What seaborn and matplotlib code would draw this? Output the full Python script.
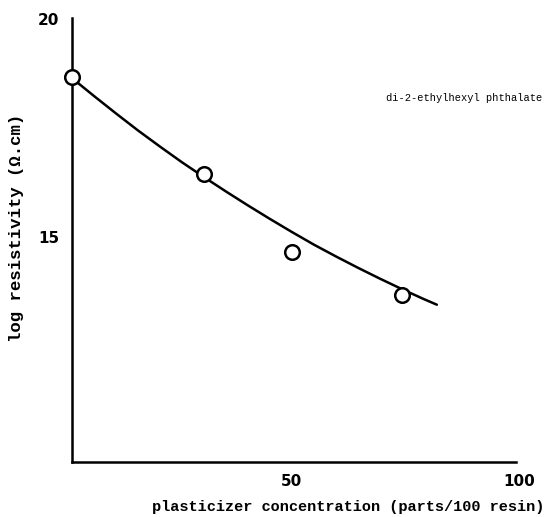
import matplotlib
matplotlib.use("Agg")
import matplotlib.pyplot as plt
import matplotlib.transforms as mtransforms
import seaborn as sns
import pandas as pd

# Measured data points (circles)
conc_points = [0, 30, 50, 75]
logres_points = [18.67, 16.44, 14.66, 13.67]

# Hand-drawn trend curve
curve_x = [0, 5, 10, 15, 20, 25, 30, 35, 40, 45, 50, 55, 60, 65, 70, 75, 80, 83]
curve_y = [18.65, 18.24, 17.84, 17.45, 17.08, 16.72, 16.38, 16.05, 15.73, 15.42,
           15.12, 14.83, 14.56, 14.30, 14.05, 13.81, 13.58, 13.45]

x_ticks = [50, 100]
x_tick_labels = ["50", "100"]
y_ticks = [15, 20]
y_tick_labels = ["15", "20"]

x_label = "plasticizer concentration (parts/100 resin)"
y_label = "log resistivity (Ω.cm)"
annotation = "di-2-ethylhexyl phthalate"

sns.set_style("white")
plt.rcParams['font.family'] = ['Liberation Mono', 'DejaVu Sans Mono', 'DejaVu Sans']

fig = plt.figure(figsize=(5.53, 5.17), dpi=100)
W, H = 553, 517
ax = fig.add_axes([72 / W, 1 - 462 / H, (516 - 72) / W, (462 - 18) / H])

points = pd.DataFrame({"conc": conc_points, "logres": logres_points})
curve = pd.DataFrame({"conc": curve_x, "logres": curve_y})

sns.lineplot(data=curve, x="conc", y="logres", ax=ax, color="black",
             linewidth=1.8, zorder=2)
sns.scatterplot(data=points, x="conc", y="logres", ax=ax, marker="o", s=110,
                facecolor="white", edgecolor="black", linewidth=1.8, zorder=3,
                clip_on=False)

ax.set_xlim(0, 101)
ax.set_ylim(9.84, 20.03)

for side in ["top", "right"]:
    ax.spines[side].set_visible(False)
for side in ["left", "bottom"]:
    ax.spines[side].set_linewidth(1.8)
    ax.spines[side].set_color("black")

ax.set_xticks(x_ticks)
ax.set_xticklabels(x_tick_labels, fontfamily="DejaVu Sans", fontweight="bold", fontsize=11)
ax.set_yticks(y_ticks)
ax.set_yticklabels(y_tick_labels, fontfamily="DejaVu Sans", fontweight="bold", fontsize=11)
ax.tick_params(axis="both", direction="in", length=5, width=1.5, colors="black", pad=9)

# the hand-lettered "100" sits a little right of its tick
lbl100 = ax.get_xticklabels()[1]
lbl100.set_transform(lbl100.get_transform() +
                     mtransforms.ScaledTranslation(8 / 100, 0, fig.dpi_scale_trans))

ax.set_xlabel("")
ax.set_ylabel("")
fig.text(348 / W, 1 - 507 / H, x_label, ha="center", va="center", fontsize=11,
         fontweight="bold", color="black")
fig.text(17 / W, 1 - 228 / H, y_label, ha="center", va="center", rotation=90,
         fontsize=12.5, fontweight="bold", color="black")
ax.text(71.4, 18.2, annotation, ha="left", va="center", fontsize=7.5,
        color="black")

fig.savefig("out.png", dpi=100)
